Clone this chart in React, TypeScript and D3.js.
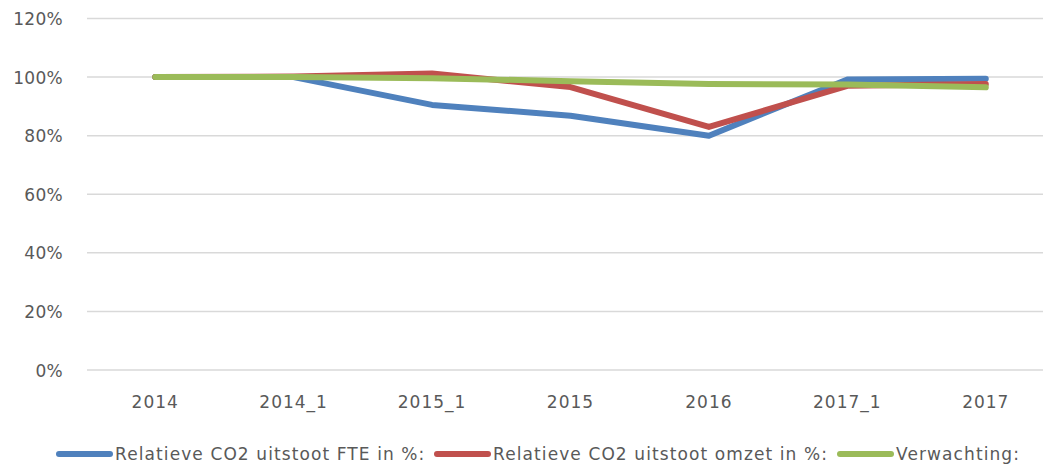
import React, { useRef, useEffect } from "react";
import * as d3 from "d3";

const categories = ["2014", "2014_1", "2015_1", "2015", "2016", "2017_1", "2017"];
const fteValues = [100, 100, 90.5, 86.8, 80, 99.2, 99.4];
const omzetValues = [100, 100.2, 101.2, 96.6, 83, 97, 97.6];
const verwachtingValues = [100, 100, 99.6, 98.6, 97.6, 97.5, 96.5];
const yTicks = [0, 20, 40, 60, 80, 100, 120];

const seriesNames = [
  "Relatieve CO2 uitstoot FTE in %:",
  "Relatieve CO2 uitstoot omzet in %:",
  "Verwachting:",
];
const seriesColors = ["#4F81BD", "#C0504D", "#9BBB59"];

const width = 1043;
const height = 466;

export default function App() {
  const svgRef = useRef<SVGSVGElement>(null);

  useEffect(() => {
    const svg = d3.select(svgRef.current);
    svg.selectAll("*").remove();

    const font = "'DejaVu Sans', sans-serif";
    const textColor = "#595959";
    const fontSize = "17px";

    // plot area
    const x = d3.scaleBand().domain(categories).range([86, 1055]).padding(0);
    const y = d3.scaleLinear().domain([0, 120]).range([370, 18.5]);
    const cx = (c: string) => (x(c) || 0) + x.bandwidth() / 2;

    // gridlines
    svg
      .append("g")
      .selectAll("line")
      .data(yTicks)
      .enter()
      .append("line")
      .attr("x1", 87)
      .attr("x2", width)
      .attr("y1", (d) => y(d))
      .attr("y2", (d) => y(d))
      .attr("stroke", "#D9D9D9")
      .attr("stroke-width", 1.5);

    // y labels
    svg
      .append("g")
      .selectAll("text")
      .data(yTicks)
      .enter()
      .append("text")
      .attr("x", 63)
      .attr("y", (d) => y(d) + 6.5)
      .attr("text-anchor", "end")
      .attr("font-family", font)
      .attr("font-size", fontSize)
      .attr("letter-spacing", "0.3px")
      .attr("fill", textColor)
      .text((d) => `${d}%`);

    // x labels
    svg
      .append("g")
      .selectAll("text")
      .data(categories)
      .enter()
      .append("text")
      .attr("x", (d) => cx(d))
      .attr("y", 408)
      .attr("text-anchor", "middle")
      .attr("font-family", font)
      .attr("font-size", fontSize)
      .attr("letter-spacing", "1px")
      .attr("fill", textColor)
      .text((d) => d);

    // lines
    const allSeries = [fteValues, omzetValues, verwachtingValues];
    const line = d3
      .line<number>()
      .x((_, i) => cx(categories[i]))
      .y((d) => y(d));

    allSeries.forEach((vals, i) => {
      svg
        .append("path")
        .attr("d", line(vals) || "")
        .attr("fill", "none")
        .attr("stroke", seriesColors[i])
        .attr("stroke-width", 6)
        .attr("stroke-linecap", "round")
        .attr("stroke-linejoin", "round");
    });

    // legend
    const legendX = [57, 435, 838];
    const legend = svg.append("g");
    seriesNames.forEach((name, i) => {
      legend
        .append("line")
        .attr("x1", legendX[i] + 2)
        .attr("x2", legendX[i] + 53)
        .attr("y1", 454)
        .attr("y2", 454)
        .attr("stroke", seriesColors[i])
        .attr("stroke-width", 6)
        .attr("stroke-linecap", "round");
      legend
        .append("text")
        .attr("x", legendX[i] + 58)
        .attr("y", 460)
        .attr("font-family", font)
        .attr("font-size", fontSize)
        .attr("letter-spacing", "1.1px")
        .attr("fill", textColor)
        .text(name);
    });
  }, []);

  return (
    <svg
      ref={svgRef}
      width={width}
      height={height}
      style={{ position: "absolute", left: 0, top: 0, background: "#fff" }}
    />
  );
}
